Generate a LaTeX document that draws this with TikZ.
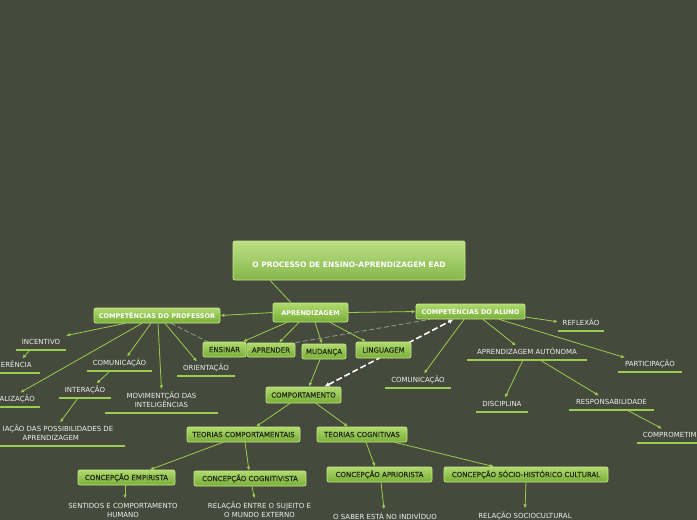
\documentclass[tikz,border=0pt]{standalone}
\usepackage{fontspec}
\setmainfont{DejaVu Sans}
\newfontfamily\boxfont[FakeBold=0.4]{DejaVu Sans}
\usetikzlibrary{arrows.meta}
\pgfdeclarelayer{bgfill}
\pgfdeclarelayer{lines}
\pgfsetlayers{bgfill,lines,main}
\definecolor{bg}{RGB}{70,74,61}
\definecolor{lg}{RGB}{154,205,79}
\definecolor{boxtop}{RGB}{176,218,110}
\definecolor{boxbot}{RGB}{120,174,56}
\definecolor{boxdraw}{RGB}{196,232,138}
\definecolor{dtext}{RGB}{34,42,22}
\definecolor{ltext}{RGB}{238,240,232}
\definecolor{dgray}{RGB}{150,152,145}
\begin{document}
\begin{tikzpicture}[x=1pt,y=-1pt,
  gbox/.style={rounded corners=2pt, draw=boxdraw, line width=0.7pt, top color=boxtop, bottom color=boxbot, inner sep=0pt, text=dtext, text height=5.2pt, text depth=0pt, font=\boxfont\fontsize{7}{9}\selectfont},
  wbox/.style={gbox, text=white, font=\bfseries\fontsize{6.5}{8}\selectfont},
  tbox/.style={gbox, text=white, font=\bfseries\fontsize{7.5}{9}\selectfont, text height=16pt, text depth=1.5pt, top color=boxtop!85!white, bottom color=boxbot!90!white},
  uline/.style={draw=lg, line width=1.3pt},
  lbl/.style={text=ltext, font=\fontsize{7}{9}\selectfont, inner xsep=0pt, inner ysep=2.5pt, text height=6.3pt, text depth=2.7pt, anchor=south, append after command={(\tikzlastnode.south west) edge[uline] (\tikzlastnode.south east)}},
  mlbl/.style={text=ltext, font=\fontsize{7}{9}\selectfont, inner xsep=0pt, inner ysep=2.5pt, anchor=south, append after command={(\tikzlastnode.south west) edge[uline] (\tikzlastnode.south east)}},
  txt/.style={text=ltext, font=\fontsize{7}{9}\selectfont, inner xsep=0pt, inner ysep=3.5pt, anchor=base},
  tline/.style={draw=lg, line width=0.8pt},
  conn/.style={draw=lg, line width=0.8pt, -{Latex[length=4pt,width=3.5pt]}},
  gdash/.style={draw=dgray, line width=0.8pt, dash pattern=on 5pt off 2.5pt},
  wdash/.style={draw=white, line width=1.6pt, dash pattern=on 6pt off 3pt, {Latex[length=5pt,width=5pt]}-{Latex[length=5pt,width=5pt]}}
]
\useasboundingbox (0,0) rectangle (697,520);
\clip (0,0) rectangle (697,520);
\begin{pgfonlayer}{bgfill}
\fill[bg] (0,0) rectangle (697,520);
\end{pgfonlayer}

% boxes
\node[tbox, minimum width=232pt, minimum height=39pt] (title) at (349,260.5) {O PROCESSO DE ENSINO-APRENDIZAGEM EAD};
\node[wbox, minimum width=75pt, minimum height=19pt] (aprend) at (310.5,312.5) {APRENDIZAGEM};
\node[wbox, minimum width=126pt, minimum height=15pt] (prof) at (157,315.5) {COMPETÊNCIAS DO PROFESSOR};
\node[wbox, minimum width=109pt, minimum height=15pt] (aluno) at (470.5,311.5) {COMPETÊNCIAS DO ALUNO};
\node[gbox, minimum width=43pt, minimum height=15pt] (ensinar) at (224.5,349.5) {ENSINAR};
\node[gbox, minimum width=48pt, minimum height=14pt] (aprender) at (271,350) {APRENDER};
\node[gbox, minimum width=44pt, minimum height=15pt] (mudanca) at (324,351.5) {MUDANÇA};
\node[gbox, minimum width=55pt, minimum height=16pt] (ling) at (383.5,350) {LINGUAGEM};
\node[gbox, minimum width=75pt, minimum height=16pt] (comport) at (303.5,395) {COMPORTAMENTO};
\node[gbox, minimum width=113pt, minimum height=15pt] (teorcomp) at (243.5,434.5) {TEORIAS COMPORTAMENTAIS};
\node[gbox, minimum width=90pt, minimum height=15pt] (teorcog) at (362,434.5) {TEORIAS COGNITIVAS};
\node[gbox, minimum width=97pt, minimum height=15pt] (empirista) at (126.5,477.5) {CONCEPÇÃO EMPIRISTA};
\node[gbox, minimum width=112pt, minimum height=15pt] (cognitivista) at (250,478.5) {CONCEPÇÃO COGNITIVISTA};
\node[gbox, minimum width=105pt, minimum height=15pt] (apriorista) at (379.5,474.5) {CONCEPÇÃO APRIORISTA};
\node[gbox, minimum width=164pt, minimum height=15pt] (socio) at (526,474.5) {CONCEPÇÃO SÓCIO-HISTÓRICO CULTURAL};

% underlined labels
\node[lbl, minimum width=50pt] (incentivo) at (41,350) {INCENTIVO};
\node[lbl, minimum width=48pt, anchor=south west] (erencia) at (-8,373) {ERÊNCIA};
\node[lbl, minimum width=65pt] (comunicp) at (119.5,371) {COMUNICAÇÃO};
\node[lbl, minimum width=58pt] (orient) at (206,376) {ORIENTAÇÃO};
\node[lbl, minimum width=52pt] (interacao) at (85,398) {INTERAÇÃO};
\node[lbl, minimum width=46pt, anchor=south west] (alizacao) at (-6,407) {ALIZAÇÃO};
\node[mlbl, minimum width=113pt] (movim) at (161.5,413) {\begin{tabular}[t]{@{}c@{}}MOVIMENTÇÃO DAS\\INTELIGÊNCIAS\end{tabular}};
\node[mlbl, minimum width=134pt] (possib) at (58,446) {\begin{tabular}[t]{@{}l@{}}IAÇÃO DAS POSSIBILIDADES DE\\\hspace*{20pt}APRENDIZAGEM\end{tabular}};
\node[lbl, minimum width=46pt] (reflexao) at (581,331) {REFLEXÃO};
\node[lbl, minimum width=120pt] (aprauto) at (527,360) {APRENDIZAGEM AUTÔNOMA};
\node[lbl, minimum width=64pt] (particip) at (650,372) {PARTICIPAÇÃO};
\node[lbl, minimum width=66pt] (comunica) at (418,388) {COMUNICAÇÃO};
\node[lbl, minimum width=52pt] (disciplina) at (502,412) {DISCIPLINA};
\node[lbl, minimum width=85pt] (respons) at (611.5,410) {RESPONSABILIDADE};
\node[lbl, minimum width=65pt, anchor=south west] (comprom) at (637,443) {COMPROMETIM};

% bottom texts
\node[txt] (sentidos) at (123,508.5) {\begin{tabular}[t]{@{}c@{}}SENTIDOS E COMPORTAMENTO\\HUMANO\end{tabular}};
\node[txt] (relsujeito) at (259.5,508.5) {\begin{tabular}[t]{@{}c@{}}RELAÇÃO ENTRE O SUJEITO E\\O MUNDO EXTERNO\end{tabular}};
\node[txt, text height=6.3pt, text depth=2.7pt] (osaber) at (385,519.5) {O SABER ESTÁ NO INDIVÍDUO};
\node[txt, text height=6.3pt, text depth=2.7pt] (relsocio) at (525,518.5) {RELAÇÃO SOCIOCULTURAL};

% connectors
\begin{pgfonlayer}{lines}
\draw[tline] ([xshift=-79pt]title.south) -- ([xshift=-19.5pt]aprend.north);
\draw[conn] (aprend.west) -- (prof.east);
\draw[conn] (aprend.east) -- (aluno.west);
\draw[conn] ([xshift=-23.5pt]aprend.south) -- ([xshift=18.5pt]ensinar.north);
\draw[conn] ([xshift=-11.5pt]aprend.south) -- ([xshift=8pt]aprender.north);
\draw[conn] ([xshift=4.5pt]aprend.south) -- ([xshift=-2pt]mudanca.north);
\draw[conn] ([xshift=19.5pt]aprend.south) -- ([xshift=-17.5pt]ling.north);

\draw[conn] ([xshift=-32pt]prof.south) -- ([xshift=25pt]incentivo.north);
\draw[conn] ([xshift=-15pt]prof.south) -- ([xshift=3pt]alizacao.north);
\draw[conn] ([xshift=-6pt]prof.south) -- ([xshift=7.5pt]comunicp.north);
\draw[conn] ([xshift=1pt]prof.south) -- (movim.north);
\draw[conn] ([xshift=8pt]prof.south) -- ([xshift=-9pt]orient.north);
\draw[gdash] ([xshift=14pt]prof.south) -- ([xshift=5pt]ensinar.north west);

\draw[conn] ([xshift=-11pt]incentivo.south) -- ([xshift=6pt]erencia.north);
\draw[conn] ([xshift=-9.5pt]comunicp.south) -- ([xshift=11.5pt]interacao.north);
\draw[conn] ([xshift=-7pt]interacao.south) -- ([xshift=2pt]possib.north);

\draw[conn] ([yshift=-5.5pt]aluno.east) -- ([yshift=2pt]reflexao.west);
\draw[conn] ([xshift=12.5pt]aluno.south) -- ([xshift=-11pt]aprauto.north);
\draw[conn] ([xshift=28.5pt]aluno.south) -- ([xshift=-25pt]particip.north);
\draw[conn] ([xshift=-6.5pt]aluno.south) -- ([xshift=6pt]comunica.north);
\draw[conn] ([xshift=-4pt]aprauto.south) -- ([xshift=3pt]disciplina.north);
\draw[conn] ([xshift=13pt]aprauto.south) -- ([xshift=-12.5pt]respons.north);
\draw[conn] ([xshift=15.5pt]respons.south) -- ([xshift=25pt]comprom.north west);

\draw[conn] ([xshift=-4pt]mudanca.south) -- ([xshift=5.5pt]comport.north);
\draw[gdash] (aprender.north east) -- ([xshift=-40.5pt]aluno.south);
\draw[wdash] ([xshift=21pt]comport.north) -- ([xshift=-17pt]aluno.south);

\draw[conn] ([xshift=-13.5pt]comport.south) -- ([xshift=12.5pt]teorcomp.north);
\draw[conn] ([xshift=12.5pt]comport.south) -- ([xshift=-14pt]teorcog.north);
\draw[conn] ([xshift=-20.5pt]teorcomp.south) -- ([xshift=23.5pt]empirista.north);
\draw[conn] ([xshift=1.5pt]teorcomp.south) -- ([xshift=-1pt]cognitivista.north);
\draw[conn] ([xshift=4pt]teorcog.south) -- ([xshift=-4.5pt]apriorista.north);
\draw[conn] ([xshift=33pt]teorcog.south) -- ([xshift=-32pt]socio.north);
\draw[conn] ([xshift=-1.5pt]empirista.south) -- ([xshift=2pt]sentidos.north);
\draw[conn] ([xshift=2pt]cognitivista.south) -- ([xshift=-5pt]relsujeito.north);
\draw[conn] ([xshift=1.5pt]apriorista.south) -- ([xshift=-1pt]osaber.north);
\draw[conn] (socio.south) -- (relsocio.north);
\end{pgfonlayer}
\end{tikzpicture}
\end{document}
